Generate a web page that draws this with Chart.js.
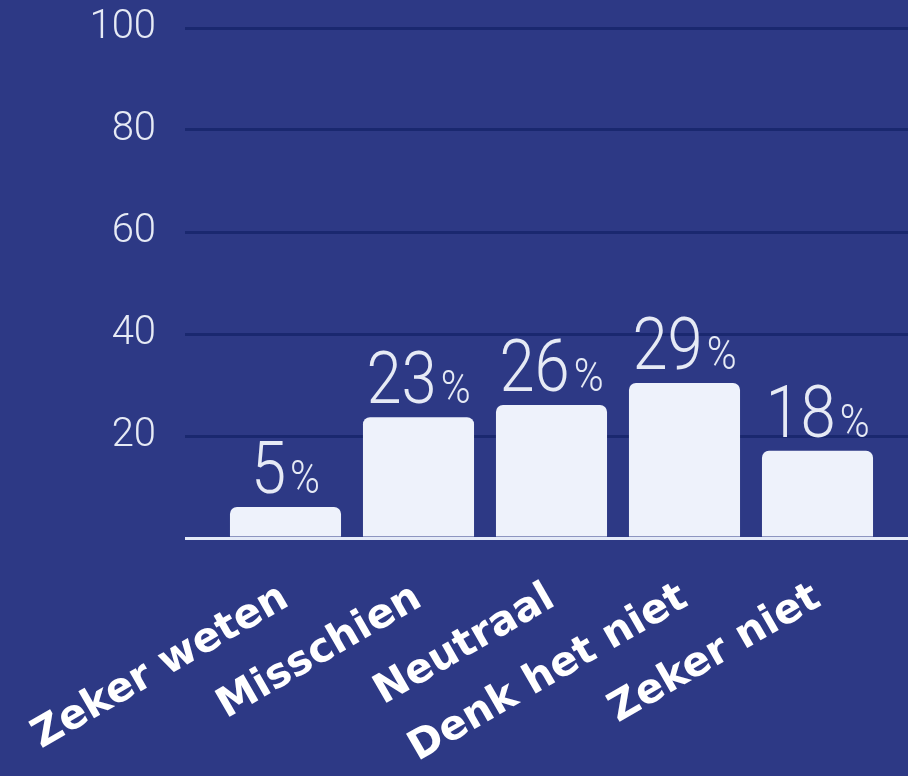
<!DOCTYPE html>
<html>
<head>
<meta charset="utf-8">
<script src="https://cdn.jsdelivr.net/npm/chart.js@4/dist/chart.umd.min.js"></script>
<style>
  html, body { margin: 0; padding: 0; background: #2d3985; }
  #wrap { width: 908px; height: 776px; }
</style>
</head>
<body>
<div id="wrap"><canvas id="chart"></canvas></div>
<script>
// answers on the x axis
const categories = ["Zeker weten", "Misschien", "Neutraal", "Denk het niet", "Zeker niet"];
// bar heights
const barValues = [6.1, 23.7, 26.1, 30.4, 17.1];
// percentages printed above the bars
const shownPercent = [5, 23, 26, 29, 18];
const yTicks = [0, 20, 40, 60, 80, 100];

const GRID = "#1a286f";
const BASE = "#e4eaf7";
const BAR = "#eef2fb";
const TXT = "#e6eaf5";

// big number + small % above each bar
const percentLabels = {
    id: "percentLabels",
    afterDatasetsDraw(chart) {
        const ctx = chart.ctx;
        const meta = chart.getDatasetMeta(0);
        const sx = 0.88;
        meta.data.forEach((bar, i) => {
            const num = String(shownPercent[i]);
            ctx.save();
            ctx.fillStyle = TXT;
            ctx.textBaseline = "alphabetic";
            ctx.font = "300 72px Roboto";
            const wNum = ctx.measureText(num).width * sx;
            ctx.font = "300 46px Roboto";
            const wPct = ctx.measureText("%").width * sx;
            const gap = 4;
            const total = wNum + gap + wPct;
            ctx.translate(bar.x - total / 2, bar.y - 14);
            ctx.scale(sx, 1);
            ctx.textAlign = "left";
            ctx.font = "300 72px Roboto";
            ctx.fillText(num, 0, 0);
            ctx.font = "300 46px Roboto";
            ctx.fillText("%", (wNum + gap) / sx, 0);
            ctx.restore();
        });
    }
};

const gridColor = c => (c.tick && c.tick.value === 0 ? BASE : GRID);
const noPad = s => { s.paddingLeft = 0; s.paddingRight = 0; s.paddingTop = 0; s.paddingBottom = 0; };

new Chart(document.getElementById("chart"), {
    type: "bar",
    data: {
        labels: categories,
        datasets: [{
            data: barValues,
            backgroundColor: BAR,
            borderRadius: 7,
            borderSkipped: "start",
            barPercentage: 0.835,
            categoryPercentage: 1.0
        }]
    },
    options: {
        responsive: true,
        maintainAspectRatio: false,
        animation: false,
        layout: { padding: { top: 28, left: 0, right: 0, bottom: 0 } },
        plugins: {
            legend: { display: false },
            tooltip: { enabled: false }
        },
        scales: {
            x: {
                offset: true,
                grid: { display: false, drawTicks: false },
                border: { display: false },
                ticks: {
                    color: "#ffffff",
                    font: { family: "DejaVu Sans", weight: "bold", size: 41 },
                    minRotation: 30,
                    maxRotation: 30,
                    autoSkip: false,
                    padding: 36
                },
                afterFit: s => { s.height = 238; noPad(s); }
            },
            y: {
                min: 0,
                max: 100,
                afterBuildTicks: s => { s.ticks = yTicks.map(v => ({ value: v })); },
                grid: { color: gridColor, lineWidth: 3, tickLength: 34 },
                border: { display: false },
                ticks: {
                    color: TXT,
                    font: { family: "Roboto", weight: "300", size: 40 },
                    padding: 29,
                    callback: v => (v === 0 ? "" : v)
                },
                afterFit: s => { s.width = 219; noPad(s); }
            },
            y2: {
                position: "right",
                min: 0,
                max: 100,
                afterBuildTicks: s => { s.ticks = yTicks.map(v => ({ value: v })); },
                grid: { color: gridColor, lineWidth: 3, tickLength: 24, drawOnChartArea: false },
                border: { display: false },
                ticks: { display: false },
                afterFit: s => { s.width = 24; noPad(s); }
            }
        }
    },
    plugins: [percentLabels]
});
</script>
</body>
</html>
